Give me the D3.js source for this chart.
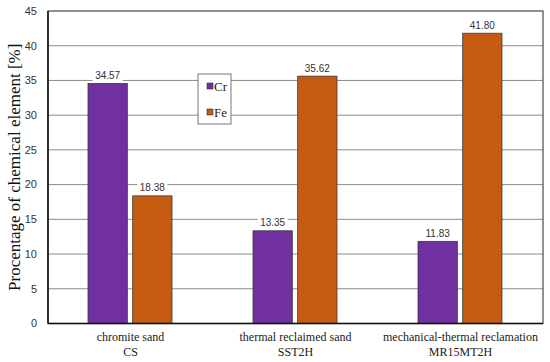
<!DOCTYPE html>
<html>
<head>
<meta charset="utf-8">
<script src="https://cdn.jsdelivr.net/npm/d3@7"></script>
<style>
  body { margin: 0; background: #fff; }
  svg { display: block; }
</style>
</head>
<body>
<div id="chart"></div>
<script>
// Chemical element percentages per sand type
const categories = [["chromite sand", "CS"], ["thermal reclaimed sand", "SST2H"], ["mechanical-thermal reclamation", "MR15MT2H"]];
const series = ["Cr", "Fe"];
const crValues = [34.57, 13.35, 11.83];
const feValues = [18.38, 35.62, 41.80];
const yTicks = [0, 5, 10, 15, 20, 25, 30, 35, 40, 45];

const colors = { Cr: "#7030a0", Fe: "#c55a11" };
const serif = "'Liberation Serif', 'Times New Roman', serif";
const sans = "'Liberation Sans', Arial, sans-serif";
const width = 550, height = 362;
const margin = { top: 11, right: 7, bottom: 38.5, left: 48 };

const svg = d3.select("#chart").append("svg")
    .attr("width", width)
    .attr("height", height);

const x0 = d3.scaleBand()
    .domain(d3.range(categories.length))
    .range([margin.left, width - margin.right]);

const x1 = d3.scaleBand()
    .domain(series)
    .range([40, 124])
    .paddingInner(0.12);

const y = d3.scaleLinear()
    .domain([0, 45])
    .range([height - margin.bottom, margin.top]);

// grid lines
svg.append("g")
    .selectAll("line")
    .data(yTicks.slice(1, -1))
    .enter().append("line")
    .attr("x1", margin.left)
    .attr("x2", width - margin.right)
    .attr("y1", d => y(d))
    .attr("y2", d => y(d))
    .attr("stroke", "#8c8c8c")
    .attr("stroke-width", 1);

// y tick labels
svg.append("g")
    .selectAll("text")
    .data(yTicks)
    .enter().append("text")
    .attr("x", 37)
    .attr("y", d => y(d))
    .attr("dy", "0.35em")
    .attr("text-anchor", "end")
    .style("font-family", sans)
    .style("font-size", "11px")
    .style("fill", "#333")
    .text(d => d);

// bars
const rows = categories.map((c, i) => ({ i, values: [{ key: "Cr", v: crValues[i] }, { key: "Fe", v: feValues[i] }] }));

const group = svg.selectAll(".grp")
    .data(rows)
    .enter().append("g")
    .attr("class", "grp")
    .attr("transform", d => `translate(${x0(d.i)},0)`);

group.selectAll("rect")
    .data(d => d.values)
    .enter().append("rect")
    .attr("x", d => x1(d.key))
    .attr("width", x1.bandwidth())
    .attr("y", d => y(d.v))
    .attr("height", d => y(0) - y(d.v))
    .attr("fill", d => colors[d.key])
    .attr("stroke", "#3a3a3a")
    .attr("stroke-width", 0.8);

// value labels with white backing
group.selectAll(".lbl")
    .data(d => d.values)
    .enter().append("g")
    .attr("class", "lbl")
    .each(function (d) {
        const g = d3.select(this);
        const cx = x1(d.key) + x1.bandwidth() / 2;
        const cy = y(d.v) - 8;
        g.append("rect")
            .attr("x", cx - 15)
            .attr("y", cy - 6)
            .attr("width", 30)
            .attr("height", 12)
            .attr("fill", "#fff");
        g.append("text")
            .attr("x", cx)
            .attr("y", cy)
            .attr("dy", "0.35em")
            .attr("text-anchor", "middle")
            .style("font-family", sans)
            .style("font-size", "10px")
            .style("fill", "#333")
            .text(d.v.toFixed(2));
    });

// plot frame
svg.append("rect")
    .attr("x", margin.left)
    .attr("y", margin.top)
    .attr("width", width - margin.left - margin.right)
    .attr("height", height - margin.top - margin.bottom)
    .attr("fill", "none")
    .attr("stroke", "#4a4a4a")
    .attr("stroke-width", 1.2);
svg.append("line")
    .attr("x1", margin.left).attr("x2", width - margin.right)
    .attr("y1", y(0)).attr("y2", y(0))
    .attr("stroke", "#111").attr("stroke-width", 1.5);
svg.append("line")
    .attr("x1", margin.left).attr("x2", margin.left)
    .attr("y1", margin.top).attr("y2", y(0))
    .attr("stroke", "#111").attr("stroke-width", 1.5);

// category labels
const catText = svg.append("g")
    .selectAll("text")
    .data(categories)
    .enter().append("text")
    .attr("text-anchor", "middle")
    .style("font-family", serif)
    .style("font-size", "12px")
    .style("fill", "#222");
catText.append("tspan")
    .attr("x", (d, i) => x0(i) + x0.bandwidth() / 2)
    .attr("y", 341)
    .text(d => d[0]);
catText.append("tspan")
    .attr("x", (d, i) => x0(i) + x0.bandwidth() / 2)
    .attr("y", 356)
    .text(d => d[1]);

// y axis title
svg.append("text")
    .attr("transform", `translate(20,${(margin.top + y(0)) / 2}) rotate(-90)`)
    .attr("text-anchor", "middle")
    .style("font-family", serif)
    .style("font-size", "17px")
    .style("fill", "#111")
    .text("Procentage of chemical element [%]");

// legend
const legend = svg.append("g").attr("transform", "translate(198,74)");
legend.append("rect")
    .attr("width", 33)
    .attr("height", 50)
    .attr("fill", "#fff")
    .attr("stroke", "#777");
const item = legend.selectAll(".item")
    .data(series)
    .enter().append("g")
    .attr("transform", (d, i) => `translate(9,${12 + i * 26})`);
item.append("rect")
    .attr("y", -3)
    .attr("width", 6)
    .attr("height", 6)
    .attr("fill", d => colors[d])
    .attr("stroke", "#333")
    .attr("stroke-width", 0.6);
item.append("text")
    .attr("x", 7)
    .attr("dy", "0.35em")
    .style("font-family", serif)
    .style("font-size", "13px")
    .style("fill", "#222")
    .text(d => d);
</script>
</body>
</html>
